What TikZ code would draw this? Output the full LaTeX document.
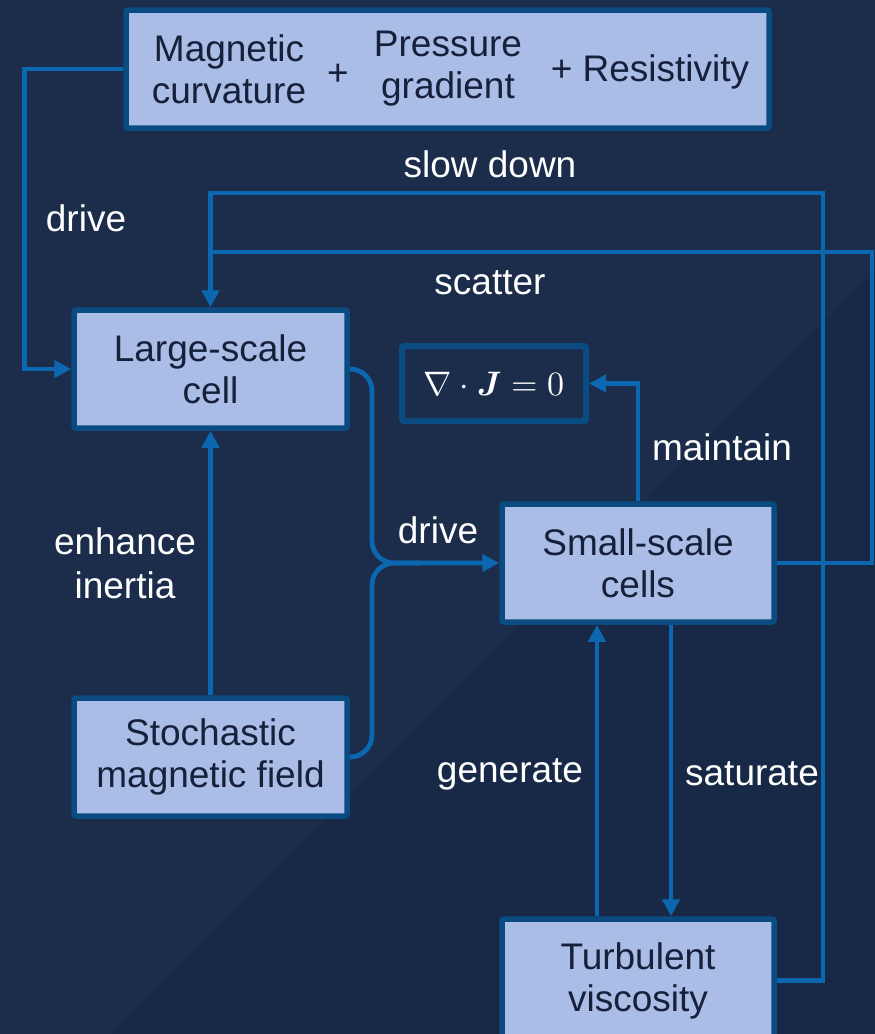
\documentclass[tikz,border=0pt]{standalone}
\usepackage{graphicx}
\usepackage{amsmath,amssymb}
\usepackage[no-math]{fontspec}
\setmainfont{Liberation Sans}
\usetikzlibrary{arrows.meta}

\definecolor{bgnavy}{RGB}{27,45,75}
\definecolor{bgshade}{RGB}{23,41,70}
\definecolor{boxfill}{RGB}{169,189,230}
\definecolor{boxline}{RGB}{10,76,130}
\definecolor{wire}{RGB}{10,103,176}
\definecolor{boxtext}{RGB}{22,32,58}

\tikzset{
  card/.style={draw=boxline, line width=5.5pt, fill=boxfill, rounded corners=2pt,
    text=boxtext, align=center, inner sep=0pt,
    font=\fontsize{37}{42}\selectfont},
  eqbox/.style={draw=boxline, line width=6pt, fill=bgnavy, rounded corners=2pt,
    text=white, inner sep=0pt, font=\fontsize{10}{12}\selectfont},
  intext/.style={text=boxtext, align=center, inner sep=0pt,
    font=\fontsize{37}{42}\selectfont},
  lbl/.style={text=white, align=center, inner sep=0pt,
    font=\fontsize{37}{44}\selectfont},
  conn/.style={draw=wire, line width=4.8pt},
  arr/.style={conn, -{Triangle[length=17pt,width=17pt]}},
}

\begin{document}
\begin{tikzpicture}[x=1pt,y=-1pt]
  % canvas
  \useasboundingbox (0,0) rectangle (875,1034);
  \clip (0,0) rectangle (875,1034);
  \fill[bgnavy] (0,0) rectangle (875,1034);
  \fill[bgshade] (875,270) -- (875,1034) -- (111,1034) -- cycle;

  % boxes
  \node[card, minimum width=643pt, minimum height=118pt] (top) at (447.5,69) {};
  \node[intext] (mc) at (229,69) {Magnetic\\curvature};
  \node[intext] (plus1) at (338,75) {+};
  \node[intext] (pg) at (448,69) {Pressure\\gradient};
  \node[intext] (res) at (650,72) {+ Resistivity};

  \node[card, minimum width=273pt, minimum height=118pt] (large) at (210.5,369) {Large-scale\\cell};
  \node[eqbox, minimum width=184pt, minimum height=75pt] (eq) at (494,383.5)
    {\scalebox{3.4}{$\nabla\cdot\boldsymbol{J}=0$}};
  \node[card, minimum width=272pt, minimum height=118pt] (small) at (638,563) {Small-scale\\cells};
  \node[card, minimum width=273pt, minimum height=118pt] (stoch) at (210.5,757) {Stochastic\\magnetic field};
  \node[card, minimum width=272pt, minimum height=123pt] (turb) at (638,980.5) {Turbulent\\viscosity};

  % connectors
  \draw[arr] (top.west) -- ++(-99,0) |- (large.west);
  \draw[arr] (turb.east) -| (823,193) -| (large.north);
  \draw[conn] (small.east) -| (872,252) -- (210,252);
  \draw[arr] (small.north) |- (eq.east);
  \draw[arr] (stoch.north) -- (large.south);
  \draw[arr, rounded corners=22pt] (large.east) -| (372,563) -- (small.west);
  \draw[conn, rounded corners=22pt] (stoch.east) -| (372,563) -- (420,563);
  \draw[arr] ([xshift=-41pt]turb.north) -- ([xshift=-41pt]small.south);
  \draw[arr] ([xshift=33pt]small.south) -- ([xshift=33pt]turb.north);

  % labels
  \node[lbl] at (86,218) {drive};
  \node[lbl] at (490,164) {slow down};
  \node[lbl] at (490,283) {scatter};
  \node[lbl] at (722,447) {maintain};
  \node[lbl] at (125,563) {enhance\\inertia};
  \node[lbl] at (438,530) {drive};
  \node[lbl] at (510,774) {generate};
  \node[lbl] at (752,774) {saturate};
\end{tikzpicture}
\end{document}
